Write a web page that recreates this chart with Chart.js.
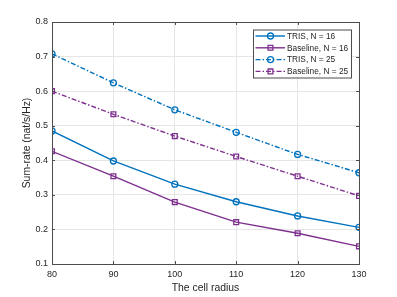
<!DOCTYPE html>
<html>
<head>
<meta charset="utf-8">
<script src="https://cdn.jsdelivr.net/npm/chart.js@4.4.1/dist/chart.umd.min.js"></script>
<style>
  html, body { margin: 0; padding: 0; background: #fff; }
  #wrap { width: 397px; height: 297px; }
</style>
</head>
<body>
<div id="wrap"><canvas id="chart" width="397" height="297"></canvas></div>
<script>
// values
const cellRadius = [80, 90, 100, 110, 120, 130];
const trisN16 = [0.485, 0.398, 0.331, 0.280, 0.239, 0.206];
const baselineN16 = [0.426, 0.354, 0.279, 0.221, 0.189, 0.151];
const trisN25 = [0.708, 0.624, 0.546, 0.481, 0.417, 0.364];
const baselineN25 = [0.600, 0.533, 0.470, 0.411, 0.354, 0.297];
const xTicks = [80, 90, 100, 110, 120, 130];
const yTicks = [0.1, 0.2, 0.3, 0.4, 0.5, 0.6, 0.7, 0.8];
const seriesLabels = ["TRIS, N = 16", "Baseline, N = 16", "TRIS, N = 25", "Baseline, N = 25"];

const BLUE = "#0072bd";
const PURPLE = "#7e2f8e";
const AXIS = "#4d4d4d";
const TEXT = "#262626";
const DASHDOT = [5, 2, 1.5, 2];

const toXY = vals => vals.map((v, i) => ({ x: cellRadius[i], y: v }));

function series(label, vals, color, style, dash) {
  return {
    label: label,
    data: toXY(vals),
    borderColor: color,
    borderWidth: 1.4,
    borderDash: dash,
    pointStyle: style,
    pointRadius: style === "circle" ? 3 : 3.4,
    pointBorderWidth: 1.3,
    pointBorderColor: color,
    pointBackgroundColor: "rgba(0,0,0,0)",
    fill: false,
    tension: 0
  };
}

// box around the axes with inward tick marks, like the original figure
const axesBox = {
  id: "axesBox",
  afterDraw(chart) {
    const { ctx, chartArea: a, scales } = chart;
    ctx.save();
    ctx.strokeStyle = AXIS;
    ctx.lineWidth = 1;
    ctx.strokeRect(Math.round(a.left) + 0.5, Math.round(a.top) + 0.5,
      Math.round(a.right - a.left), Math.round(a.bottom - a.top));
    ctx.beginPath();
    xTicks.forEach(t => {
      const x = Math.round(scales.x.getPixelForValue(t)) + 0.5;
      ctx.moveTo(x, a.bottom); ctx.lineTo(x, a.bottom - 3);
      ctx.moveTo(x, a.top); ctx.lineTo(x, a.top + 3);
    });
    yTicks.forEach(t => {
      const y = Math.round(scales.y.getPixelForValue(t)) + 0.5;
      ctx.moveTo(a.left, y); ctx.lineTo(a.left + 3, y);
      ctx.moveTo(a.right, y); ctx.lineTo(a.right - 3, y);
    });
    ctx.stroke();
    ctx.restore();
  }
};

// legend box in the upper right corner of the axes
const boxLegend = {
  id: "boxLegend",
  afterDraw(chart) {
    const { ctx } = chart;
    const x0 = 253, y0 = 29.5, w = 98, h = 48, rowH = 11.8;
    ctx.save();
    ctx.fillStyle = "#fff";
    ctx.fillRect(x0, y0, w, h);
    ctx.strokeStyle = AXIS;
    ctx.lineWidth = 1;
    ctx.strokeRect(x0 + 0.5, y0 + 0.5, w, h);
    ctx.font = "8.3px 'Liberation Sans', Arial, sans-serif";
    ctx.textBaseline = "middle";
    chart.data.datasets.forEach((ds, i) => {
      const y = y0 + 6.5 + i * rowH;
      ctx.strokeStyle = ds.borderColor;
      ctx.lineWidth = ds.borderWidth;
      ctx.setLineDash(ds.borderDash || []);
      ctx.beginPath();
      ctx.moveTo(x0 + 2.5, y); ctx.lineTo(x0 + 32, y);
      ctx.stroke();
      ctx.setLineDash([]);
      ctx.lineWidth = ds.pointBorderWidth;
      ctx.fillStyle = "rgba(255,255,255,0)";
      Chart.helpers.drawPoint(ctx, {
        pointStyle: ds.pointStyle, radius: ds.pointRadius, rotation: 0, borderWidth: ds.pointBorderWidth
      }, x0 + 17.5, y);
      ctx.fillStyle = TEXT;
      ctx.fillText(ds.label, x0 + 34, y + 0.5);
    });
    ctx.restore();
  }
};

new Chart(document.getElementById("chart"), {
  type: "line",
  data: {
    datasets: [
      series(seriesLabels[0], trisN16, BLUE, "circle", []),
      series(seriesLabels[1], baselineN16, PURPLE, "rect", []),
      series(seriesLabels[2], trisN25, BLUE, "circle", DASHDOT),
      series(seriesLabels[3], baselineN25, PURPLE, "rect", DASHDOT)
    ]
  },
  options: {
    responsive: false,
    animation: false,
    events: [],
    layout: { padding: { top: 22, right: 38, left: 0, bottom: 0 } },
    plugins: { legend: { display: false }, tooltip: { enabled: false } },
    scales: {
      x: {
        type: "linear",
        min: 80,
        max: 130,
        afterFit: s => { s.height = 33; },
        afterBuildTicks: s => { s.ticks = xTicks.map(v => ({ value: v })); },
        grid: { color: "#e6e6e6", drawTicks: false },
        border: { display: false },
        ticks: {
          padding: 5,
          color: TEXT,
          font: { family: "'Liberation Sans', Arial, sans-serif", size: 9 },
          maxRotation: 0
        },
        title: {
          display: true,
          text: "The cell radius",
          color: TEXT,
          padding: { top: 0, bottom: 2.5 },
          font: { family: "'Liberation Sans', Arial, sans-serif", size: 10.4 }
        }
      },
      y: {
        min: 0.1,
        max: 0.8,
        afterFit: s => { s.width = 52; },
        afterBuildTicks: s => { s.ticks = yTicks.map(v => ({ value: v })); },
        grid: { color: "#e6e6e6", drawTicks: false },
        border: { display: false },
        ticks: {
          padding: 4,
          color: TEXT,
          font: { family: "'Liberation Sans', Arial, sans-serif", size: 9 },
          callback: v => v.toFixed(1)
        },
        title: {
          display: true,
          text: "Sum-rate (nat/s/Hz)",
          color: TEXT,
          padding: { top: 20.5, bottom: 0 },
          font: { family: "'Liberation Sans', Arial, sans-serif", size: 10.4 }
        }
      }
    }
  },
  plugins: [axesBox, boxLegend]
});
</script>
</body>
</html>
